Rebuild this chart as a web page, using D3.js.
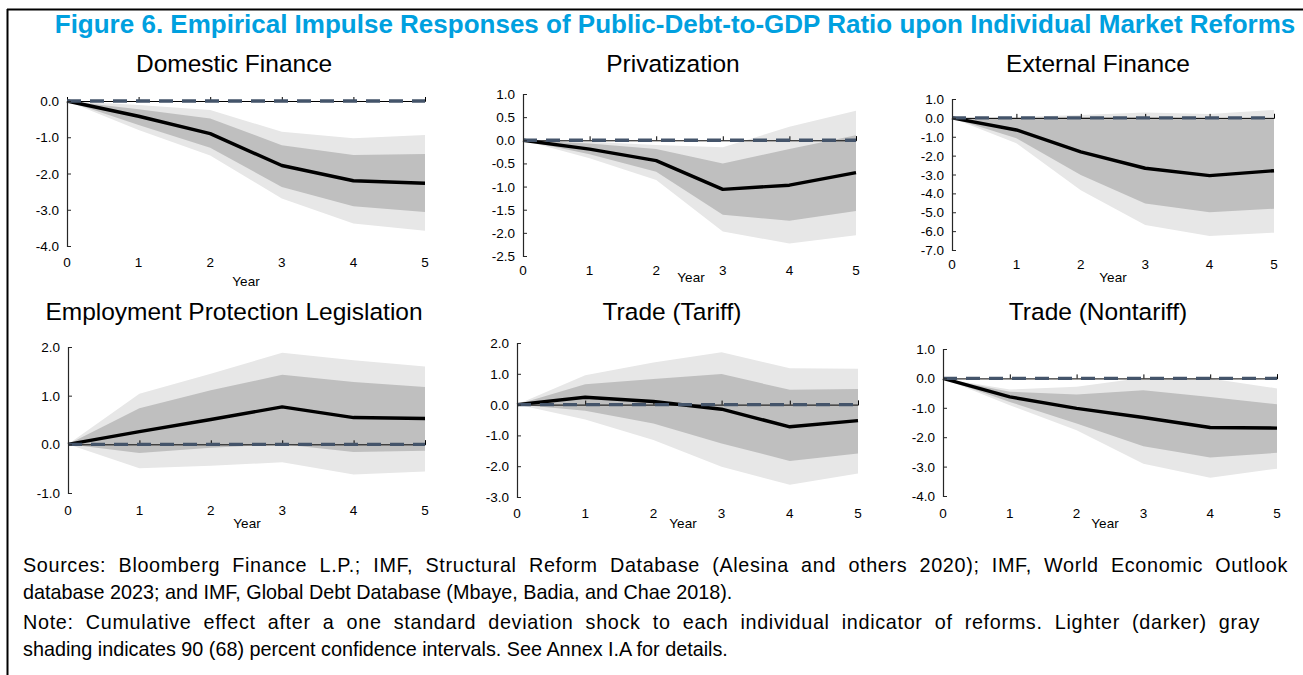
<!DOCTYPE html>
<html><head><meta charset="utf-8">
<script src="https://cdn.jsdelivr.net/npm/d3@7"></script>
<style>
body{margin:0;background:#fff}
svg{display:block}
text{font-family:"Liberation Sans",Arial,Helvetica,sans-serif}
</style>
</head><body>
<svg id="c" width="1303" height="675"></svg>
<script>
// ---------- DATA ----------
const years = [0, 1, 2, 3, 4, 5];
const mainTitle = "Figure 6. Empirical Impulse Responses of Public-Debt-to-GDP Ratio upon Individual Market Reforms";
const panelTitles = ["Domestic Finance", "Privatization", "External Finance",
  "Employment Protection Legislation", "Trade (Tariff)", "Trade (Nontariff)"];
const xAxisLabel = "Year";

// Domestic Finance
const domMid  = [0, -0.42, -0.90, -1.78, -2.20, -2.27];
const domLo68 = [0, -0.66, -1.29, -2.37, -2.90, -3.06];
const domHi68 = [0, -0.23, -0.48, -1.22, -1.49, -1.46];
const domLo90 = [0, -0.80, -1.50, -2.69, -3.38, -3.58];
const domHi90 = [0, -0.11, -0.25, -0.85, -1.03, -0.94];
const domTicks = [0, -1, -2, -3, -4];

// Privatization
const priMid  = [0, -0.19, -0.44, -1.06, -0.97, -0.70];
const priLo68 = [0, -0.30, -0.68, -1.61, -1.74, -1.53];
const priHi68 = [0, -0.07, -0.19, -0.50, -0.19, 0.11];
const priLo90 = [0, -0.39, -0.86, -1.97, -2.23, -2.05];
const priHi90 = [0, -0.03, -0.10, -0.15, 0.29, 0.64];
const priTicks = [1, 0.5, 0, -0.5, -1, -1.5, -2, -2.5];

// External Finance
const extMid  = [0, -0.64, -1.80, -2.67, -3.06, -2.80];
const extLo68 = [0, -1.08, -3.03, -4.53, -5.00, -4.81];
const extHi68 = [0, 0.00, 0.05, 0.05, 0.00, -0.05];
const extLo90 = [0, -1.35, -3.83, -5.68, -6.26, -6.08];
const extHi90 = [0, 0.05, 0.15, 0.29, 0.20, 0.42];
const extTicks = [1, 0, -1, -2, -3, -4, -5, -6, -7];

// Employment Protection Legislation
const eplMid  = [0, 0.26, 0.51, 0.77, 0.55, 0.53];
const eplLo68 = [0, -0.18, -0.07, 0.00, -0.16, -0.13];
const eplHi68 = [0, 0.74, 1.11, 1.43, 1.28, 1.18];
const eplLo90 = [0, -0.49, -0.44, -0.37, -0.62, -0.56];
const eplHi90 = [0, 1.04, 1.45, 1.88, 1.73, 1.60];
const eplTicks = [2, 1, 0, -1];

// Trade (Tariff)
const tarMid  = [0, 0.24, 0.10, -0.15, -0.72, -0.52];
const tarLo68 = [0, -0.20, -0.61, -1.26, -1.83, -1.59];
const tarHi68 = [0, 0.66, 0.83, 0.99, 0.48, 0.51];
const tarLo90 = [0, -0.48, -1.15, -2.02, -2.60, -2.24];
const tarHi90 = [0, 0.95, 1.37, 1.70, 1.18, 1.16];
const tarTicks = [2, 1, 0, -1, -2, -3];

// Trade (Nontariff)
const ntMid  = [0, -0.63, -1.02, -1.33, -1.67, -1.69];
const ntLo68 = [0, -0.80, -1.53, -2.31, -2.69, -2.53];
const ntHi68 = [0, -0.45, -0.55, -0.40, -0.63, -0.88];
const ntLo90 = [0, -0.91, -1.76, -2.90, -3.38, -3.07];
const ntHi90 = [0, -0.38, -0.28, 0.02, 0.00, -0.34];
const ntTicks = [1, 0, -1, -2, -3, -4];

const notes = [
  "Sources: Bloomberg Finance L.P.; IMF, Structural Reform Database (Alesina and others 2020); IMF, World Economic Outlook",
  "database 2023; and IMF, Global Debt Database (Mbaye, Badia, and Chae 2018).",
  "Note: Cumulative effect after a one standard deviation shock to each individual indicator of reforms. Lighter (darker) gray",
  "shading indicates 90 (68) percent confidence intervals. See Annex I.A for details."
];

const series = [
  {mid: domMid, lo68: domLo68, hi68: domHi68, lo90: domLo90, hi90: domHi90, ticks: domTicks},
  {mid: priMid, lo68: priLo68, hi68: priHi68, lo90: priLo90, hi90: priHi90, ticks: priTicks},
  {mid: extMid, lo68: extLo68, hi68: extHi68, lo90: extLo90, hi90: extHi90, ticks: extTicks},
  {mid: eplMid, lo68: eplLo68, hi68: eplHi68, lo90: eplLo90, hi90: eplHi90, ticks: eplTicks},
  {mid: tarMid, lo68: tarLo68, hi68: tarHi68, lo90: tarLo90, hi90: tarHi90, ticks: tarTicks},
  {mid: ntMid,  lo68: ntLo68,  hi68: ntHi68,  lo90: ntLo90,  hi90: ntHi90,  ticks: ntTicks}
];

// ---------- LAYOUT ----------
const layout = [
  {x0: 67,  x1: 425,  p0: 101, p1: 246, tickY: 267, yearX: 246, yearY: 286, titleX: 234,  titleY: 72},
  {x0: 523, x1: 856,  p0: 94,  p1: 256, tickY: 275, yearX: 691, yearY: 282, titleX: 673,  titleY: 72},
  {x0: 952, x1: 1274, p0: 99,  p1: 250, tickY: 269, yearX: 1113, yearY: 282, titleX: 1098, titleY: 72},
  {x0: 68,  x1: 425,  p0: 347, p1: 493, tickY: 515, yearX: 247, yearY: 528, titleX: 234,  titleY: 320},
  {x0: 517, x1: 858,  p0: 343, p1: 497, tickY: 518, yearX: 683, yearY: 528, titleX: 672,  titleY: 320},
  {x0: 943, x1: 1277, p0: 349, p1: 496, tickY: 518, yearX: 1105, yearY: 528, titleX: 1098, titleY: 320}
];
const noteY = [572, 599, 629, 656];
const noteJustifyEnd = [1288, null, 1260, null];

const LIGHT = "#E7E7E7", DARK = "#BFBFBF", DASH = "#44546A", AXIS = "#262626";

const svg = d3.select("#c");

// frame
svg.append("line").attr("x1", 7.5).attr("x2", 7.5).attr("y1", 9).attr("y2", 675)
  .attr("stroke", "#000").attr("stroke-width", 2);
svg.append("line").attr("x1", 7).attr("x2", 1303).attr("y1", 9.5).attr("y2", 9.5)
  .attr("stroke", "#000").attr("stroke-width", 2);

// main title
svg.append("text").attr("x", 675).attr("y", 33).attr("text-anchor", "middle")
  .attr("font-size", 26).attr("font-weight", "bold").attr("fill", "#00A0DF")
  .text(mainTitle);

series.forEach((s, i) => {
  const L = layout[i];
  const tk = s.ticks;
  const x = d3.scaleLinear().domain([0, 5]).range([L.x0, L.x1]);
  const y = d3.scaleLinear().domain([d3.max(tk), d3.min(tk)]).range([L.p0, L.p1]);
  const g = svg.append("g");

  const area = (lo, hi) => d3.area().x((d, j) => x(years[j])).y0((d, j) => y(lo[j])).y1((d, j) => y(hi[j]))(years);
  g.append("path").attr("d", area(s.lo90, s.hi90)).attr("fill", LIGHT);
  g.append("path").attr("d", area(s.lo68, s.hi68)).attr("fill", DARK);

  // horizontal axis at zero
  const xa = g.append("g").attr("transform", `translate(0,${y(0)})`)
    .call(d3.axisTop(x).tickValues(years).tickSize(4).tickFormat(""));
  xa.select(".domain").attr("stroke", "#000").attr("stroke-width", 1);
  xa.selectAll(".tick line").attr("stroke", "#000");

  // central line
  g.append("path")
    .attr("d", d3.line().x((d, j) => x(years[j])).y((d, j) => y(s.mid[j]))(years))
    .attr("fill", "none").attr("stroke", "#000").attr("stroke-width", 3.4).attr("stroke-linejoin", "round");

  // dashed zero line
  g.append("line").attr("x1", x(0)).attr("x2", x(5)).attr("y1", y(0)).attr("y2", y(0))
    .attr("stroke", DASH).attr("stroke-width", 3.4).attr("stroke-dasharray", "14,9");

  // y axis
  const ya = g.append("g").attr("transform", `translate(${L.x0},0)`)
    .call(d3.axisRight(y).tickValues(tk).tickSize(4).tickFormat(""));
  ya.select(".domain").attr("stroke", AXIS).attr("stroke-width", 1.2);
  ya.selectAll(".tick line").attr("stroke", AXIS);
  g.selectAll(".ylab").data(tk).enter().append("text")
    .attr("x", L.x0 - 8).attr("y", d => y(d) + 5).attr("text-anchor", "end")
    .attr("font-size", 13.5).attr("fill", "#000").text(d => d3.format(".1f")(d).replace("−", "-"));

  // x tick labels
  g.selectAll(".xlab").data(years).enter().append("text")
    .attr("x", d => x(d)).attr("y", L.tickY).attr("text-anchor", "middle")
    .attr("font-size", 13.5).attr("fill", "#000").text(d => d);
  g.append("text").attr("x", L.yearX).attr("y", L.yearY).attr("text-anchor", "middle")
    .attr("font-size", 13.5).attr("fill", "#000").text(xAxisLabel);

  // panel title
  g.append("text").attr("x", L.titleX).attr("y", L.titleY).attr("text-anchor", "middle")
    .attr("font-size", 24.5).attr("fill", "#000").text(panelTitles[i]);
});

// notes: full lines justified to the reference right edge
notes.forEach((t, i) => {
  const el = svg.append("text").attr("x", 23).attr("y", noteY[i]).attr("font-size", 19.8)
    .attr("fill", "#000").text(t);
  const end = noteJustifyEnd[i];
  if (end) {
    const len = el.node().getComputedTextLength();
    const extra = end - 23 - len;
    if (extra > 0) {
      const ls = extra * 0.45 / (t.length - 1);
      el.attr("letter-spacing", ls);
      const len2 = el.node().getComputedTextLength();
      const spaces = (t.match(/ /g) || []).length;
      el.attr("word-spacing", Math.max(0, (end - 23 - len2) / spaces));
    }
  }
});
</script>
</body></html>
